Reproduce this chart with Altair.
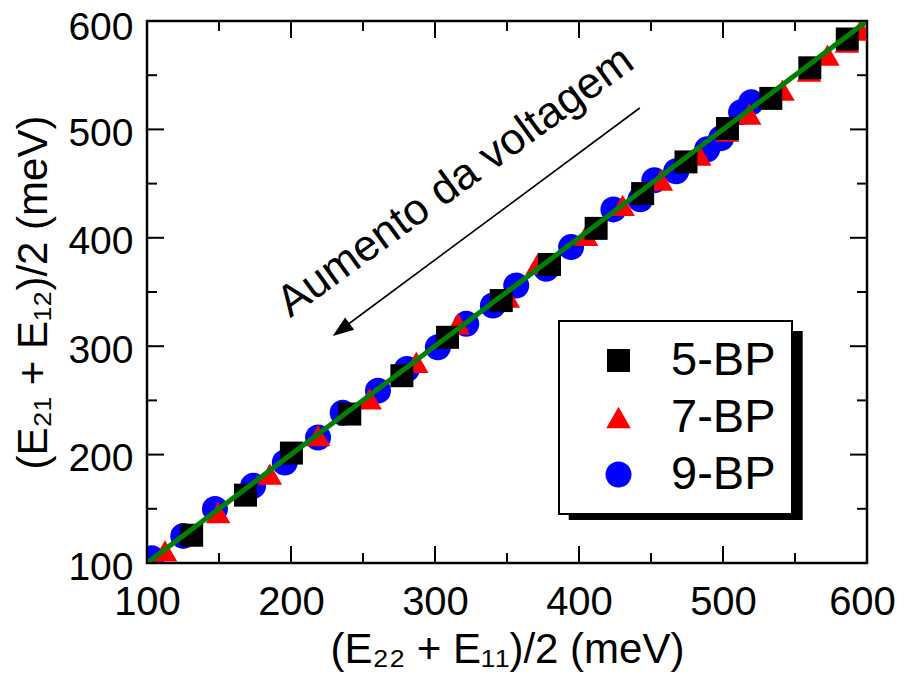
import altair as alt
import pandas as pd

# ---------------- data ----------------
series_names = ["5-BP", "7-BP", "9-BP"]
series_colors = ["#000000", "#ff0000", "#0000ff"]
series_shapes = ["square", "triangle-up", "circle"]

bp5_x = [131.0, 168.4, 200.3, 240.8, 277.0, 308.7, 346.0, 379.5, 411.9, 444.2, 474.3, 503.1, 533.2, 560.3, 586.3]
bp5_y = [125.6, 162.6, 201.4, 237.4, 272.8, 308.2, 342.1, 375.4, 408.7, 440.8, 470.0, 500.8, 528.6, 556.8, 583.4]

bp7_x = [112.5, 149.4, 185.3, 218.8, 254.6, 287.0, 315.9, 350.6, 371.4, 404.9, 430.3, 456.9, 483.5, 502.9,
         518.2, 541.3, 559.8, 572.5, 586.1, 595.6]
bp7_y = [111.1, 146.5, 182.0, 217.4, 251.3, 285.1, 320.6, 345.2, 376.1, 402.2, 430.0, 453.1, 476.2, 498.3,
         514.0, 536.2, 553.8, 568.6, 580.6, 591.7]

bp9_x = [103.3, 125.2, 147.2, 173.7, 195.7, 218.8, 235.9, 260.4, 280.5, 302.0, 321.7, 340.2, 356.4, 377.2,
         394.5, 423.9, 442.6, 452.3, 467.5, 489.0, 498.7, 512.6, 519.6]
bp9_y = [104.3, 125.0, 149.9, 171.2, 192.7, 215.8, 238.6, 259.0, 279.0, 299.0, 320.6, 337.5, 356.0, 371.4,
         391.4, 426.2, 435.5, 453.1, 461.4, 481.7, 491.9, 515.9, 525.1]

fit_x = [100, 600]
fit_y = [100, 600]

major_ticks = [100, 200, 300, 400, 500, 600]
minor_ticks = [150, 250, 350, 450, 550]

x_title = "(E₂₂ + E₁₁)/2 (meV)"
y_title = "(E₂₁ + E₁₂)/2 (meV)"
annot_text = "Aumento da voltagem"

# ---------------- layout ----------------
W, H = 720, 542
FONT = "Liberation Sans"
OX, OY = 147.3, 21  # page position of plot origin (for annotations)

rows = []
for name, xs_, ys_ in [("9-BP", bp9_x, bp9_y), ("7-BP", bp7_x, bp7_y), ("5-BP", bp5_x, bp5_y)]:
    for a, b in zip(xs_, ys_):
        rows.append({"series": name, "x": a, "y": b})
df = pd.DataFrame(rows)

xsc = alt.Scale(domain=[100, 600], nice=False, zero=False)
ysc = alt.Scale(domain=[100, 600], nice=False, zero=False)

legend = alt.Legend(
    title=None, orient="none", legendX=412, legendY=300, padding=16,
    strokeColor="black", fillColor="white",
    labelFontSize=47, labelFont=FONT, labelColor="black", labelFontWeight="normal",
    symbolSize=529, symbolStrokeWidth=0, rowPadding=9,
    labelOffset=29, symbolOffset=20,
)

x_axis = alt.Axis(
    values=major_ticks, format="d", labelFontSize=40, labelFont=FONT, labelColor="black",
    labelFontWeight="normal",
    labelOffset=alt.ConditionalAxisNumber(condition={"test": "datum.value == 600", "value": -5}, value=0),
    labelPadding=19, ticks=False, tickSize=0, domain=False, grid=False, labelFlush=False,
    labelOverlap=False, titleFontSize=42, titleFont=FONT, titleColor="black",
    titleFontWeight="normal", titleY=99, titleBaseline="alphabetic",
)
y_axis = alt.Axis(
    values=major_ticks, format="d", labelFontSize=39, labelFont=FONT, labelColor="black",
    labelFontWeight="normal",
    labelOffset=alt.ConditionalAxisNumber(condition={"test": "datum.value == 600", "value": 6}, value=4),
    labelPadding=14, ticks=False, tickSize=0, domain=False, grid=False, labelFlush=False,
    labelOverlap=False, titleFontSize=42, titleFont=FONT, titleColor="black",
    titleFontWeight="normal", titleAngle=270, titleBaseline="alphabetic", titleAlign="center",
    titleX=-101, titleY=H / 2,
)


def X(field):
    return alt.X(field, scale=xsc, axis=x_axis, title=x_title)


def Y(field):
    return alt.Y(field, scale=ysc, axis=y_axis, title=y_title)


shadow = alt.Chart(pd.DataFrame({"a": [0]})).mark_rect(color="black").encode(
    x=alt.value(569 - OX), x2=alt.value(803 - OX), y=alt.value(331 - OY), y2=alt.value(520 - OY)
)

points = alt.Chart(df).mark_point(filled=True, opacity=1, strokeWidth=0, clip=True).encode(
    x=X("x:Q"),
    y=Y("y:Q"),
    color=alt.Color("series:N", scale=alt.Scale(domain=series_names, range=series_colors), legend=legend),
    shape=alt.Shape("series:N", scale=alt.Scale(domain=series_names, range=series_shapes), legend=legend),
    size=alt.Size("series:N", scale=alt.Scale(domain=series_names, range=[529, 676, 441]), legend=None),
)

fit = alt.Chart(pd.DataFrame({"x": fit_x, "y": fit_y})).mark_line(
    color="#008000", strokeWidth=5, clip=True
).encode(x=X("x:Q"), y=Y("y:Q"))


def tick_layer(vals, length, side):
    d = pd.DataFrame({"v": vals})
    base = alt.Chart(d).mark_rule(color="black", strokeWidth=2)
    if side == "bottom":
        return base.encode(x=X("v:Q"), y=alt.value(H), y2=alt.value(H - length))
    if side == "top":
        return base.encode(x=X("v:Q"), y=alt.value(0), y2=alt.value(length))
    if side == "left":
        return base.encode(y=Y("v:Q"), x=alt.value(0), x2=alt.value(length))
    return base.encode(y=Y("v:Q"), x=alt.value(W), x2=alt.value(W - length))


ticks = []
for side in ["bottom", "top", "left", "right"]:
    ticks.append(tick_layer(major_ticks, 17, side))
    ticks.append(tick_layer(minor_ticks, 10, side))

annot = alt.Chart(pd.DataFrame({"t": [annot_text]})).mark_text(
    angle=324, fontSize=44, font=FONT, color="black", align="center", baseline="middle"
).encode(x=alt.value(456 - OX), y=alt.value(182 - OY), text="t:N")

arrow_line = alt.Chart(pd.DataFrame({"a": [0]})).mark_rule(color="black", strokeWidth=1.6).encode(
    x=alt.value(640 - OX), y=alt.value(108 - OY), x2=alt.value(338 - OX), y2=alt.value(332 - OY)
)
arrow_head = alt.Chart(pd.DataFrame({"a": [0]})).mark_point(
    shape="M0,0L-0.55,1.5L0.55,1.5Z", filled=True, color="black", opacity=1, size=784, angle=233.8,
    strokeWidth=0,
).encode(x=alt.value(333 - OX), y=alt.value(336 - OY))

chart = alt.layer(points, shadow, fit, *ticks, annot, arrow_line, arrow_head).properties(
    width=W, height=H,
    autosize=alt.AutoSizeParams(type="none"),
    padding={"left": 139, "top": 13, "right": 30, "bottom": 109},
).configure(font=FONT).configure_view(stroke="black", strokeWidth=2.5).configure_legend(strokeWidth=2)

chart.save("out.html", embed_options={"renderer": "svg", "actions": False})
